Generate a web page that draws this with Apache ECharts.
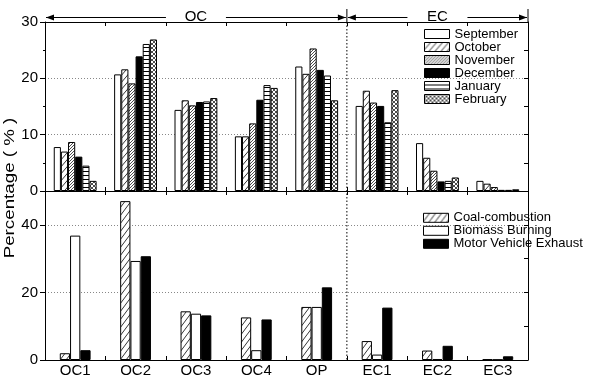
<!DOCTYPE html>
<html>
<head>
<meta charset="utf-8">
<script src="https://cdn.jsdelivr.net/npm/echarts@6/dist/echarts.min.js"></script>
<style>
html, body { margin: 0; padding: 0; background: #fff; }
#chart { width: 594px; height: 382px; }
</style>
</head>
<body>
<div id="chart"></div>
<script>
// categories
const categories = ['OC1', 'OC2', 'OC3', 'OC4', 'OP', 'EC1', 'EC2', 'EC3']
const months = ['September', 'October', 'November', 'December', 'January', 'February']
const sources = ['Coal-combustion', 'Biomass Burning', 'Motor Vehicle Exhaust']

// top panel: monthly percentage
const september = [7.8, 20.7, 14.4, 9.7, 22.1, 15.1, 8.5, 1.8]
const october = [7.0, 21.6, 16.1, 9.7, 20.8, 17.8, 5.9, 1.3]
const november = [8.7, 19.1, 15.2, 12.0, 25.3, 15.7, 3.6, 0.7]
const december = [6.1, 23.9, 15.8, 16.2, 21.5, 15.1, 1.7, 0.2]
const january = [4.5, 26.1, 15.9, 18.8, 20.5, 12.2, 1.8, 0.2]
const february = [1.8, 26.9, 16.5, 18.3, 16.1, 17.9, 2.4, 0.3]

// bottom panel: source profiles
const coal = [2.0, 47.0, 14.4, 12.6, 15.7, 5.6, 2.8, 0.2]
const biomass = [36.8, 29.3, 13.7, 2.9, 15.7, 1.6, 0.3, 0.1]
const motor = [2.9, 30.7, 13.2, 12.0, 21.5, 15.5, 4.2, 1.1]

const topTicks = [0, 10, 20, 30]
const bottomTicks = [0, 20, 40]

const GRID_LEFT = 45
const GRID_WIDTH = 483
const GRID_TOP = 22
const PANEL_H = 169
const FONT = '"Liberation Sans", Arial, sans-serif'

// hatch fills
function makeTile(w, h, lw, draw) {
  const c = document.createElement('canvas')
  c.width = w
  c.height = h
  const ctx = c.getContext('2d')
  ctx.fillStyle = '#fff'
  ctx.fillRect(0, 0, w, h)
  ctx.strokeStyle = '#000'
  ctx.lineWidth = lw
  draw(ctx, w, h)
  return { image: c, repeat: 'repeat' }
}
function diag(ctx, w, h) {
  for (let k = -1; k <= 1; k++) {
    ctx.beginPath()
    ctx.moveTo(k * w, h)
    ctx.lineTo(k * w + w, 0)
    ctx.stroke()
  }
}
function diagBack(ctx, w, h) {
  for (let k = -1; k <= 1; k++) {
    ctx.beginPath()
    ctx.moveTo(k * w, 0)
    ctx.lineTo(k * w + w, h)
    ctx.stroke()
  }
}
function horiz(ctx, w, h) {
  ctx.beginPath()
  ctx.moveTo(0, h - 0.5)
  ctx.lineTo(w, h - 0.5)
  ctx.stroke()
}

const monthFills = [
  '#fff',
  makeTile(6, 7, 0.8, diag),
  makeTile(3, 3, 0.7, diag),
  '#000',
  makeTile(4, 4, 1, horiz),
  makeTile(4, 4, 0.7, (ctx, w, h) => { diag(ctx, w, h); diagBack(ctx, w, h) })
]
const sourceFills = [makeTile(6, 8, 0.8, diag), '#fff', '#000']

const chart = echarts.init(document.getElementById('chart'))
const ecStart = categories.indexOf('EC1')

const axisLine = { show: true, onZero: false, lineStyle: { color: '#000', width: 1 } }
const gridDots = { show: true, lineStyle: { color: '#888', type: [1, 2], width: 1 } }

function xAxes(grid, position, showLabel) {
  return {
    type: 'category',
    gridIndex: grid,
    position: position,
    data: categories,
    boundaryGap: true,
    axisLine: axisLine,
    axisTick: { show: true, inside: true, length: 4, lineStyle: { color: '#000' } },
    axisLabel: { show: showLabel, color: '#000', fontSize: 15, fontFamily: FONT, margin: 3 },
    splitLine: { show: false }
  }
}

const monthData = [september, october, november, december, january, february]
const sourceData = [coal, biomass, motor]

const series = monthData.map((data, i) => ({
  name: months[i],
  type: 'bar',
  xAxisIndex: 0,
  yAxisIndex: 0,
  data: data,
  barGap: '0%',
  barCategoryGap: '29%',
  itemStyle: { color: monthFills[i], borderColor: '#000', borderWidth: 1 },
  emphasis: { disabled: true }
})).concat(sourceData.map((data, i) => ({
  name: sources[i],
  type: 'bar',
  xAxisIndex: 2,
  yAxisIndex: 2,
  data: data,
  barGap: '0%',
  barCategoryGap: '49%',
  itemStyle: { color: sourceFills[i], borderColor: '#000', borderWidth: 1 },
  emphasis: { disabled: true }
})))

// header arrows over the OC / EC groups
const band = GRID_WIDTH / categories.length
const xDiv = GRID_LEFT + ecStart * band
const xEnd = GRID_LEFT + GRID_WIDTH
const hy = 17.5
function arrow(x, dir) {
  return {
    type: 'polygon',
    shape: { points: [[x, hy], [x - dir * 8, hy - 3], [x - dir * 8, hy + 3]] },
    style: { fill: '#000' }
  }
}
function seg(x1, x2) {
  return { type: 'line', shape: { x1: x1, y1: hy, x2: x2, y2: hy }, style: { stroke: '#000', lineWidth: 1 } }
}
function header(label, x1, x2) {
  const c = (x1 + x2) / 2
  return [
    arrow(x1 + 1, -1), seg(x1 + 1, c - 30),
    seg(c + 30, x2 - 1), arrow(x2 - 1, 1),
    {
      type: 'text', x: c, y: hy - 1,
      style: { text: label, font: '15px ' + FONT, fill: '#000', align: 'center', verticalAlign: 'middle' }
    }
  ]
}

const legendBase = {
  orient: 'vertical',
  itemWidth: 25,
  itemHeight: 9,
  itemGap: 0,
  padding: 0,
  icon: 'rect',
  selectedMode: false,
  itemStyle: { borderColor: '#000', borderWidth: 1 },
  textStyle: { color: '#000', fontSize: 13, fontFamily: FONT, lineHeight: 12.8 }
}

const option = {
  animation: false,
  backgroundColor: '#fff',
  grid: [
    { left: GRID_LEFT, top: GRID_TOP, width: GRID_WIDTH, height: PANEL_H },
    { left: GRID_LEFT, top: GRID_TOP + PANEL_H, width: GRID_WIDTH, height: PANEL_H }
  ],
  legend: [
    Object.assign({}, legendBase, { data: months, left: 424, top: 27.5 }),
    Object.assign({}, legendBase, { data: sources, left: 423, top: 211.3 })
  ],
  xAxis: [
    xAxes(0, 'bottom', false),
    xAxes(0, 'top', false),
    xAxes(1, 'bottom', true),
    xAxes(1, 'top', false)
  ],
  yAxis: [
    {
      type: 'value', gridIndex: 0, position: 'left',
      min: topTicks[0], max: topTicks[topTicks.length - 1], interval: topTicks[1] - topTicks[0],
      axisLine: axisLine,
      axisTick: { show: true, inside: false, length: 5, lineStyle: { color: '#000' } },
      minorTick: { show: true, splitNumber: 2, length: 2, lineStyle: { color: '#000' } },
      axisLabel: { color: '#000', fontSize: 15, fontFamily: FONT, margin: 7 },
      splitLine: gridDots
    },
    {
      type: 'value', gridIndex: 0, position: 'right',
      min: 0, max: 30, interval: 5,
      axisLine: axisLine,
      axisTick: { show: true, inside: true, length: 4, lineStyle: { color: '#000' } },
      axisLabel: { show: false },
      splitLine: { show: false }
    },
    {
      type: 'value', gridIndex: 1, position: 'left',
      min: 0, max: 50, interval: bottomTicks[1] - bottomTicks[0],
      axisLine: axisLine,
      axisTick: { show: true, inside: false, length: 5, lineStyle: { color: '#000' } },
      axisLabel: {
        color: '#000', fontSize: 15, fontFamily: FONT, margin: 7,
        formatter: (v) => (bottomTicks.indexOf(v) >= 0 ? String(v) : '')
      },
      splitLine: gridDots
    },
    {
      type: 'value', gridIndex: 1, position: 'right',
      min: 0, max: 50, interval: 10,
      axisLine: axisLine,
      axisTick: { show: true, inside: true, length: 4, lineStyle: { color: '#000' } },
      axisLabel: { show: false },
      splitLine: { show: false }
    }
  ],
  graphic: [
    {
      type: 'text', x: 10, y: 188, rotation: Math.PI / 2, scaleX: 1.25,
      style: { text: 'Percentage ( % )', font: '15px ' + FONT, fill: '#000', align: 'center', verticalAlign: 'middle' }
    },
    { type: 'line', shape: { x1: xDiv, y1: 9, x2: xDiv, y2: GRID_TOP }, style: { stroke: '#000', lineWidth: 1 } },
    { type: 'line', shape: { x1: xEnd, y1: 9, x2: xEnd, y2: GRID_TOP }, style: { stroke: '#000', lineWidth: 1 } },
    {
      type: 'line', z: 10,
      shape: { x1: xDiv, y1: GRID_TOP, x2: xDiv, y2: GRID_TOP + 2 * PANEL_H },
      style: { stroke: '#000', lineWidth: 1, lineDash: [1.5, 2] }
    }
  ].concat(header('OC', GRID_LEFT, xDiv), header('EC', xDiv, xEnd)),
  series: series
}

chart.setOption(option)
</script>
</body>
</html>
